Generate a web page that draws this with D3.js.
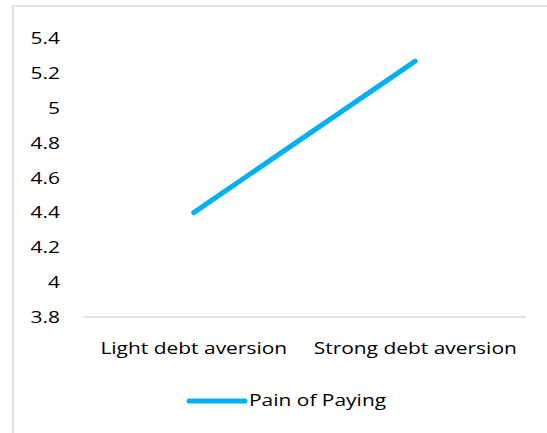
<!DOCTYPE html>
<html>
<head>
<meta charset="utf-8">
<script src="https://cdn.jsdelivr.net/npm/d3@7"></script>
<style>
  body { margin: 0; background: #fff; }
  svg { display: block; font-family: 'Open Sans', sans-serif; }
</style>
</head>
<body>
<div id="chart"></div>
<script>
// chart data
var categories = ['Light debt aversion', 'Strong debt aversion'];
var painOfPaying = [4.40, 5.27];
var yTicks = [3.8, 4, 4.2, 4.4, 4.6, 4.8, 5, 5.2, 5.4];
var seriesName = 'Pain of Paying';

var width = 547, height = 433;
var plotLeft = 83, plotRight = 526, plotTop = 38.5, plotBottom = 317;
var fontSize = 16.5, stretch = 'scale(1.27,1)'; // reference text is drawn wide

var svg = d3.select('#chart').append('svg')
  .attr('width', width)
  .attr('height', height);

// chart area border
svg.append('rect')
  .attr('x', 13).attr('y', 6)
  .attr('width', 560).attr('height', 460)
  .attr('fill', 'none')
  .attr('stroke', '#d9d9d9')
  .attr('stroke-width', 1.5);

var xScale = d3.scaleBand()
  .domain(categories)
  .range([plotLeft, plotRight]);

var yScale = d3.scaleLinear()
  .domain([3.8, 5.4])
  .range([plotBottom, plotTop]);

// y axis labels only, no line
var yAxis = d3.axisLeft(yScale)
  .tickValues(yTicks)
  .tickSize(0)
  .tickPadding(0)
  .tickFormat(function (d) { return d3.format('')(+d.toFixed(1)); });

svg.append('g')
  .attr('transform', 'translate(60,0)')
  .call(yAxis)
  .call(function (g) { g.select('.domain').remove(); })
  .selectAll('text')
  .attr('font-size', fontSize)
  .attr('font-family', 'Open Sans, sans-serif')
  .attr('fill', '#000')
  .attr('transform', stretch);

// baseline
svg.append('line')
  .attr('x1', plotLeft).attr('x2', plotRight)
  .attr('y1', yScale(3.8)).attr('y2', yScale(3.8))
  .attr('stroke', '#d9d9d9')
  .attr('stroke-width', 1.5);

// category labels
var xAxis = d3.axisBottom(xScale).tickSize(0).tickPadding(0);
svg.append('g')
  .attr('transform', 'translate(0,' + (plotBottom + 25) + ')')
  .call(xAxis)
  .call(function (g) { g.select('.domain').remove(); })
  .selectAll('text')
  .attr('font-size', fontSize)
  .attr('font-family', 'Open Sans, sans-serif')
  .attr('fill', '#000')
  .attr('transform', stretch);

// series line
var line = d3.line()
  .x(function (d, i) { return xScale(categories[i]) + xScale.bandwidth() / 2; })
  .y(function (d) { return yScale(d); });

svg.append('path')
  .datum(painOfPaying)
  .attr('d', line)
  .attr('fill', 'none')
  .attr('stroke', '#00b0f0')
  .attr('stroke-width', 5)
  .attr('stroke-linecap', 'round');

// legend
var legend = svg.append('g').attr('transform', 'translate(189,401)');
legend.append('line')
  .attr('x1', 0).attr('x2', 56)
  .attr('y1', 0).attr('y2', 0)
  .attr('stroke', '#00b0f0')
  .attr('stroke-width', 5)
  .attr('stroke-linecap', 'round');
legend.append('g')
  .attr('transform', 'translate(60,0) ' + stretch)
  .append('text')
  .attr('dy', '0.3em')
  .attr('font-size', fontSize)
  .attr('fill', '#000')
  .text(seriesName);
</script>
</body>
</html>
